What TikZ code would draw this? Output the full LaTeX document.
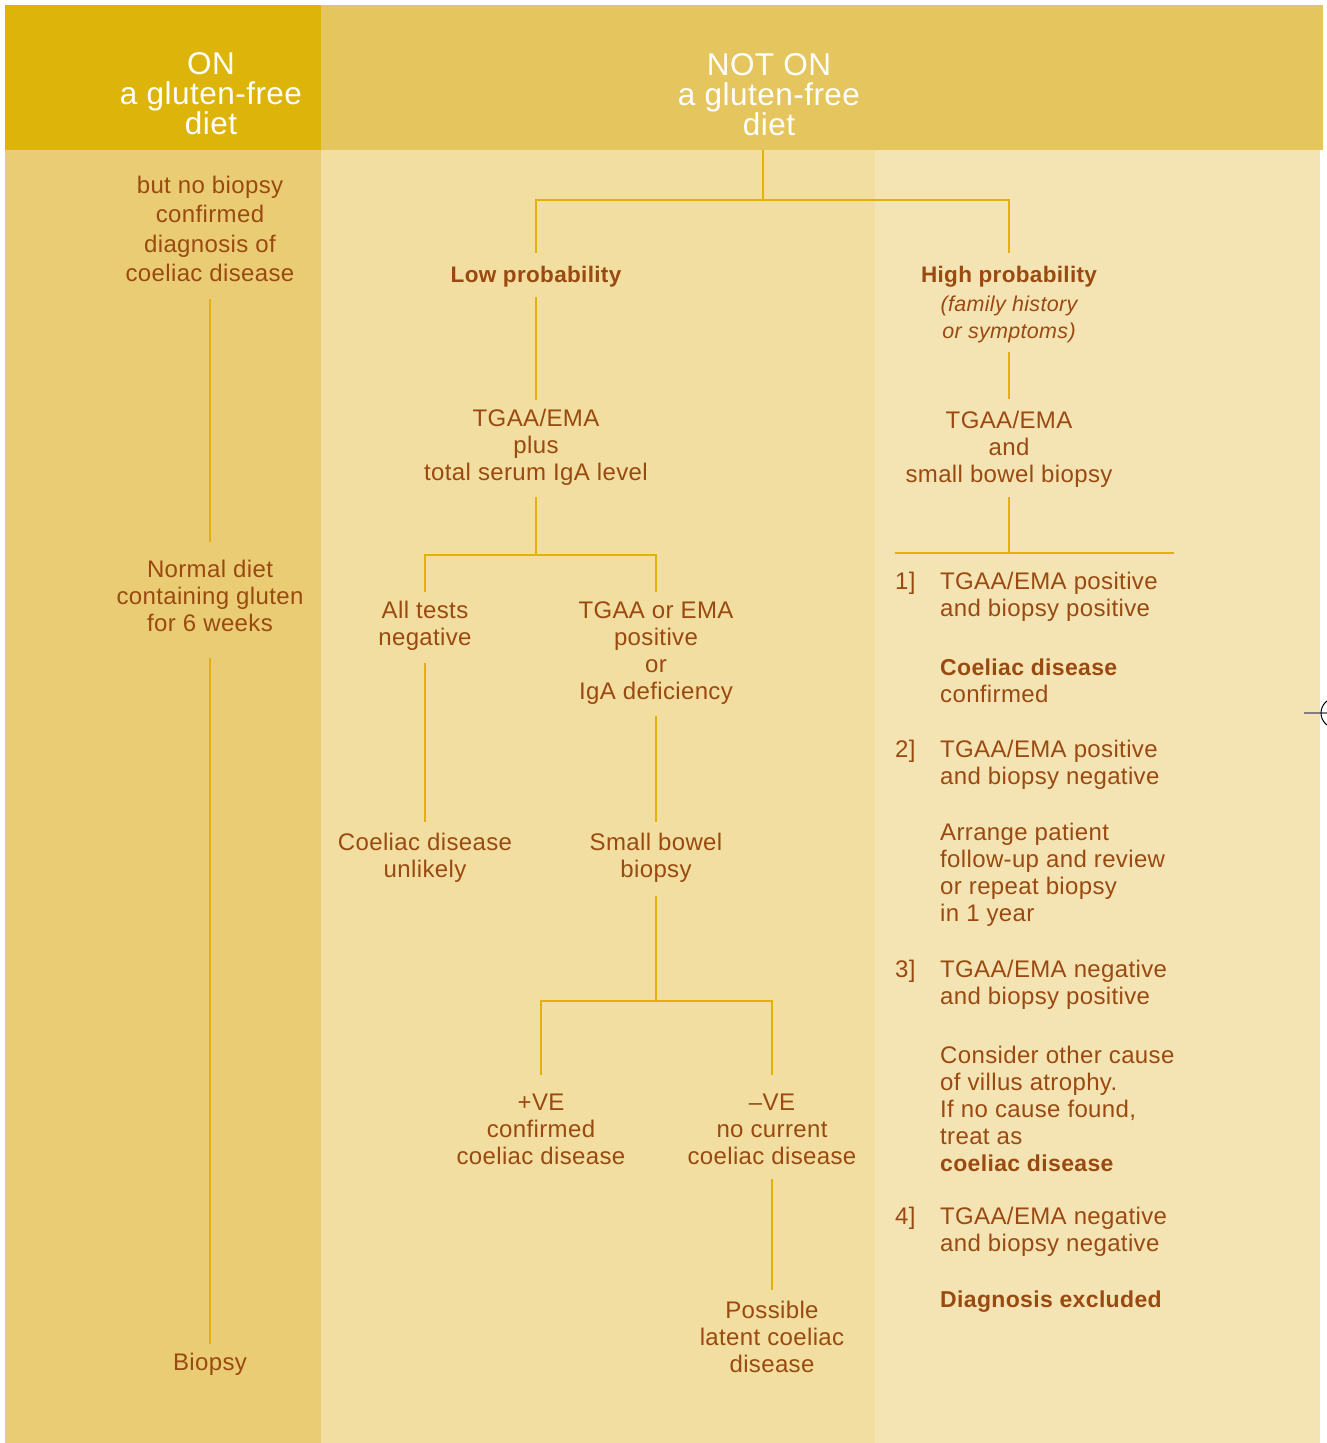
\documentclass[tikz,border=0pt]{standalone}
\usepackage{fontspec}
\setmainfont{Liberation Sans}[LetterSpace=1.5]
\definecolor{hdrL}{HTML}{DDB40A}
\definecolor{hdrR}{HTML}{E5C65E}
\definecolor{bodyL}{HTML}{EACC75}
\definecolor{bodyM}{HTML}{F1DEA0}
\definecolor{bodyR}{HTML}{F4E4B4}
\definecolor{tbrown}{HTML}{9A4A10}
\definecolor{lgold}{HTML}{E2B20A}
\newcommand{\mybold}[1]{{\fontsize{23}{27}\selectfont\bfseries #1}}
\begin{document}
\begin{tikzpicture}[x=1pt,y=-1pt,
  txt/.style={text=tbrown, font=\fontsize{24}{27}\selectfont, align=center, inner sep=0pt},
  ltxt/.style={txt, align=left, anchor=west},
  btxt/.style={txt, font=\fontsize{22.5}{27}\selectfont\bfseries},
  itxt/.style={txt, font=\fontsize{21.5}{27}\selectfont\itshape},
  hdr/.style={text=white, font=\fontsize{31.5}{30}\selectfont, align=center, inner sep=0pt},
  conn/.style={draw=lgold, line width=2.6pt}]
\useasboundingbox (0,0) rectangle (1327,1443);
\fill[white] (0,0) rectangle (1327,1443);
% backgrounds
\fill[bodyL] (5,150) rectangle (321,1443);
\fill[bodyM] (321,150) rectangle (875,1443);
\fill[bodyR] (875,150) rectangle (1320,1443);
\fill[hdrL] (5,5) rectangle (321,150);
\fill[hdrR] (321,5) rectangle (1323,150);
% crop mark
\draw[gray, line width=1.5pt] (1304,713) -- (1327,713);
\draw[black, line width=1pt] (1336,713) circle (15);
% headers
\node[hdr] (hon) at (211,94) {ON\\a gluten-free\\diet};
\node[hdr] (hnot) at (769,95) {NOT ON\\a gluten-free\\diet};
% left column
\node[txt, font=\fontsize{24}{29.5}\selectfont] (info) at (210,229) {but no biopsy\\confirmed\\diagnosis of\\coeliac disease};
\node[txt] (normal) at (210,596) {Normal diet\\containing gluten\\for 6 weeks};
\node[txt] (biopsy) at (210,1364) {Biopsy};
% middle column
\node[btxt] (lowp) at (536,277) {Low probability};
\node[txt] (tgaa1) at (536,447) {TGAA/EMA\\plus\\total serum IgA level};
\node[txt] (allneg) at (425,626) {All tests\\negative};
\node[txt] (tgaaor) at (656,653) {TGAA or EMA\\positive\\or\\IgA deficiency};
\node[txt] (unlikely) at (425,858) {Coeliac disease\\unlikely};
\node[txt] (sbb) at (656,858) {Small bowel\\biopsy};
\node[txt] (pve) at (541,1129) {+VE\\confirmed\\coeliac disease};
\node[txt] (nve) at (772,1129) {--VE\\no current\\coeliac disease};
\node[txt] (latent) at (772,1337) {Possible\\latent coeliac\\disease};
% right column
\node[btxt] (highp) at (1009,277) {High probability};
\node[itxt] (fam) at (1009,319) {(family history\\or symptoms)};
\node[txt] (tgaa2) at (1009,449) {TGAA/EMA\\and\\small bowel biopsy};
\node[txt, anchor=west] (n1) at (895,583) {1]};
\node[txt, anchor=west] (n2) at (895,751) {2]};
\node[txt, anchor=west] (n3) at (895,971) {3]};
\node[txt, anchor=west] (n4) at (895,1218) {4]};
\node[ltxt] (r1a) at (940,597) {TGAA/EMA positive\\and biopsy positive};
\node[ltxt] (r1b) at (940,681) {\mybold{Coeliac disease}\\confirmed};
\node[ltxt] (r2a) at (940,765) {TGAA/EMA positive\\and biopsy negative};
\node[ltxt] (r2b) at (940,875) {Arrange patient\\follow-up and review\\or repeat biopsy\\in 1 year};
\node[ltxt] (r3a) at (940,985) {TGAA/EMA negative\\and biopsy positive};
\node[ltxt] (r3b) at (940,1109) {Consider other cause\\of villus atrophy.\\If no cause found,\\treat as\\\mybold{coeliac disease}};
\node[ltxt] (r4a) at (940,1232) {TGAA/EMA negative\\and biopsy negative};
\node[ltxt] (r4b) at (940,1302) {\mybold{Diagnosis excluded}};
% junctions
\coordinate (hdrbot) at (763,150);
\coordinate (j1) at (763,200);
\coordinate (j2) at (536,555);
\coordinate (j3) at (656,1001);
\coordinate (j4) at (1009,553);
\coordinate (hl) at (895,553);
\coordinate (hr) at (1174,553);
% connectors
\draw[conn] (hdrbot) -- (j1);
\draw[conn, shorten >=13pt] (j1) -| (lowp.north);
\draw[conn, shorten >=13pt] (j1) -| (highp.north);
\draw[conn, shorten <=9pt, shorten >=9pt] (lowp.south) -- (tgaa1.north);
\draw[conn, shorten <=12pt] (tgaa1.south) -- (j2);
\draw[conn, shorten >=9pt] (j2) -| (allneg.north);
\draw[conn, shorten >=9pt] (j2) -| (tgaaor.north);
\draw[conn, shorten <=12pt, shorten >=11pt] (allneg.south) -- (unlikely.north);
\draw[conn, shorten <=11pt, shorten >=11pt] (tgaaor.south) -- (sbb.north);
\draw[conn, shorten <=13pt] (sbb.south) -- (j3);
\draw[conn, shorten >=18pt] (j3) -| (pve.north);
\draw[conn, shorten >=18pt] (j3) -| (nve.north);
\draw[conn, shorten <=14pt, shorten >=11pt] (nve.south) -- (latent.north);
\draw[conn, shorten <=9pt, shorten >=12pt] (fam.south) -- (tgaa2.north);
\draw[conn, shorten <=10pt] (tgaa2.south) -- (j4);
\draw[conn] (hl) -- (hr);
\draw[conn, shorten <=17pt, shorten >=18pt] (info.south) -- (normal.north);
\draw[conn, shorten <=26pt, shorten >=9pt] (normal.south) -- (biopsy.north);
\end{tikzpicture}
\end{document}
